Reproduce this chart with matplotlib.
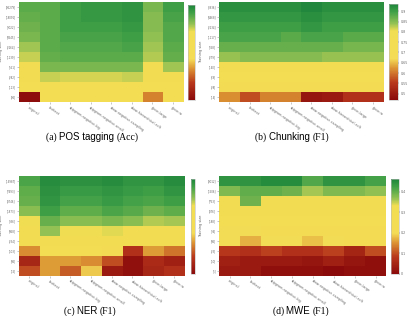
import matplotlib
matplotlib.use("Agg")
import matplotlib.pyplot as plt
import numpy as np
from matplotlib.colors import LinearSegmentedColormap

methods = ["original", "fasttext", "skipgram-negative-big", "skipgram-negative-small",
           "cbow-negative-sampling", "cbow-hierarchical-soft", "glove-large", "glove-w"]

pos_sizes = ["[36279]", "[18091]", "[9022]", "[4545]", "[2264]", "[1139]", "[561]", "[282]", "[113]", "[36]"]
pos_acc = [
    [0.88, 0.88, 0.91, 0.92, 0.92, 0.93, 0.85, 0.91],
    [0.87, 0.88, 0.91, 0.92, 0.92, 0.93, 0.84, 0.90],
    [0.86, 0.88, 0.91, 0.91, 0.91, 0.92, 0.84, 0.89],
    [0.85, 0.88, 0.90, 0.90, 0.90, 0.91, 0.83, 0.89],
    [0.82, 0.88, 0.89, 0.89, 0.89, 0.90, 0.82, 0.88],
    [0.80, 0.87, 0.88, 0.88, 0.88, 0.88, 0.81, 0.87],
    [0.76, 0.85, 0.85, 0.85, 0.85, 0.85, 0.76, 0.82],
    [0.75, 0.80, 0.79, 0.79, 0.79, 0.80, 0.74, 0.76],
    [0.70, 0.72, 0.72, 0.72, 0.72, 0.72, 0.70, 0.72],
    [0.31, 0.68, 0.68, 0.68, 0.68, 0.68, 0.50, 0.68],
]

chunk_sizes = ["[8936]", "[4468]", "[2234]", "[1117]", "[558]", "[279]", "[140]", "[69]", "[28]", "[14]"]
chunk_f1 = [
    [0.92, 0.92, 0.92, 0.92, 0.93, 0.92, 0.92, 0.92],
    [0.91, 0.91, 0.91, 0.91, 0.92, 0.91, 0.91, 0.91],
    [0.90, 0.90, 0.90, 0.90, 0.91, 0.90, 0.90, 0.90],
    [0.89, 0.89, 0.89, 0.88, 0.89, 0.89, 0.88, 0.88],
    [0.87, 0.87, 0.87, 0.87, 0.87, 0.87, 0.86, 0.86],
    [0.84, 0.85, 0.85, 0.85, 0.85, 0.84, 0.84, 0.84],
    [0.79, 0.79, 0.80, 0.79, 0.79, 0.79, 0.79, 0.79],
    [0.76, 0.76, 0.76, 0.76, 0.76, 0.76, 0.76, 0.76],
    [0.72, 0.72, 0.72, 0.72, 0.72, 0.72, 0.72, 0.72],
    [0.62, 0.57, 0.61, 0.61, 0.49, 0.50, 0.54, 0.54],
]

ner_sizes = ["[14987]", "[7493]", "[3746]", "[1873]", "[936]", "[468]", "[234]", "[103]", "[46]", "[15]"]
ner_f1 = [
    [0.74, 0.80, 0.79, 0.79, 0.80, 0.78, 0.78, 0.80],
    [0.72, 0.79, 0.77, 0.77, 0.78, 0.77, 0.76, 0.78],
    [0.71, 0.78, 0.75, 0.75, 0.77, 0.75, 0.74, 0.76],
    [0.67, 0.76, 0.72, 0.72, 0.74, 0.73, 0.70, 0.72],
    [0.60, 0.71, 0.67, 0.67, 0.69, 0.67, 0.64, 0.65],
    [0.58, 0.66, 0.60, 0.60, 0.61, 0.58, 0.58, 0.58],
    [0.55, 0.56, 0.56, 0.56, 0.56, 0.55, 0.55, 0.55],
    [0.28, 0.50, 0.50, 0.50, 0.45, 0.15, 0.30, 0.25],
    [0.12, 0.30, 0.30, 0.28, 0.20, 0.05, 0.13, 0.10],
    [0.20, 0.30, 0.22, 0.35, 0.08, 0.05, 0.12, 0.15],
]

mwe_sizes = ["[3012]", "[1506]", "[753]", "[376]", "[188]", "[94]", "[46]", "[23]", "[10]", "[5]"]
mwe_f1 = [
    [0.44, 0.44, 0.45, 0.45, 0.41, 0.44, 0.44, 0.42],
    [0.38, 0.40, 0.40, 0.39, 0.36, 0.38, 0.38, 0.37],
    [0.32, 0.39, 0.33, 0.33, 0.31, 0.32, 0.32, 0.32],
    [0.30, 0.30, 0.30, 0.30, 0.30, 0.30, 0.30, 0.30],
    [0.28, 0.28, 0.28, 0.28, 0.28, 0.28, 0.28, 0.28],
    [0.21, 0.22, 0.26, 0.26, 0.26, 0.26, 0.26, 0.26],
    [0.20, 0.17, 0.21, 0.23, 0.18, 0.22, 0.25, 0.25],
    [0.08, 0.07, 0.09, 0.07, 0.07, 0.09, 0.05, 0.10],
    [0.04, 0.03, 0.03, 0.03, 0.02, 0.04, 0.02, 0.01],
    [0.03, 0.03, 0.01, 0.01, 0.01, 0.00, 0.01, 0.01],
]

cmap = LinearSegmentedColormap.from_list("ryg", [
    (0.0, "#8a0a0c"),
    (0.18, "#b8381c"),
    (0.33, "#dc9434"),
    (0.43, "#f4dc56"),
    (0.72, "#f2de52"),
    (0.80, "#93c153"),
    (0.92, "#40a047"),
    (1.0, "#1d853b"),
])

GRAY = "#666666"


def draw_heatmap(ax, cax, data, sizes, vmin, vmax, cticks):
    im = ax.imshow(np.array(data), cmap=cmap, vmin=vmin, vmax=vmax, aspect="auto",
                   interpolation="nearest")
    ax.set_yticks(range(len(sizes)))
    ax.set_yticklabels(sizes, fontsize=1.9, color=GRAY)
    ax.set_xticks(range(len(methods)))
    ax.set_xticklabels(methods, fontsize=2.4, color=GRAY, rotation=-35, ha="left",
                       rotation_mode="anchor")
    ax.tick_params(length=1.5, width=0.4, color="#999999", pad=0.8)
    ax.set_ylabel("Training size", fontsize=2.6, color=GRAY)
    ax.yaxis.set_label_coords(-0.095, 0.5)
    for s in ax.spines.values():
        s.set_visible(False)
    cb = plt.colorbar(im, cax=cax)
    cb.outline.set_edgecolor("#bbbbbb")
    cb.outline.set_linewidth(0.4)
    if cticks:
        cb.set_ticks(cticks)
        cb.set_ticklabels([f"{t:g}" for t in cticks])
        cax.tick_params(labelsize=2.3, labelcolor=GRAY, length=1, width=0.3, pad=0.8)
    else:
        cb.set_ticks([])


def caption(fig, cx, cy, parts):
    renderer = fig.canvas.get_renderer()
    texts = []
    for s, fam in parts:
        texts.append(fig.text(0, cy, s, fontsize=7, family=fam, va="center", ha="left"))
    widths = [t.get_window_extent(renderer).width / fig.bbox.width for t in texts]
    x = cx - sum(widths) / 2
    for t, w in zip(texts, widths):
        t.set_x(x)
        x += w


fig = plt.figure(figsize=(4.08, 3.16), dpi=100)

ax_a = fig.add_axes([0.046, 0.677, 0.402, 0.316])
cax_a = fig.add_axes([0.461, 0.684, 0.016, 0.300])
ax_b = fig.add_axes([0.537, 0.677, 0.402, 0.316])
cax_b = fig.add_axes([0.953, 0.684, 0.022, 0.303])
ax_c = fig.add_axes([0.046, 0.127, 0.405, 0.316])
cax_c = fig.add_axes([0.467, 0.133, 0.012, 0.300])
ax_d = fig.add_axes([0.537, 0.127, 0.409, 0.316])
cax_d = fig.add_axes([0.958, 0.133, 0.019, 0.300])

draw_heatmap(ax_a, cax_a, pos_acc, pos_sizes, 0.30, 0.96, None)
draw_heatmap(ax_b, cax_b, chunk_f1, chunk_sizes, 0.47, 0.935,
             [0.5, 0.55, 0.6, 0.65, 0.7, 0.75, 0.8, 0.85, 0.9])
draw_heatmap(ax_c, cax_c, ner_f1, ner_sizes, 0.03, 0.82, None)
draw_heatmap(ax_d, cax_d, mwe_f1, mwe_sizes, 0.0, 0.46, [0, 0.1, 0.2, 0.3, 0.4])

fig.canvas.draw()
serif = "Liberation Serif"
sans = "Liberation Sans"
caption(fig, 0.226, 1 - 137 / 316, [("(a) ", serif), ("POS tagging ", sans), ("(Acc)", serif)])
caption(fig, 0.716, 1 - 137 / 316, [("(b) ", serif), ("Chunking ", sans), ("(F1)", serif)])
caption(fig, 0.221, 1 - 311 / 316, [("(c) ", serif), ("NER ", sans), ("(F1)", serif)])
caption(fig, 0.738, 1 - 311 / 316, [("(d) ", serif), ("MWE ", sans), ("(F1)", serif)])

fig.savefig("out.png", dpi=100)
